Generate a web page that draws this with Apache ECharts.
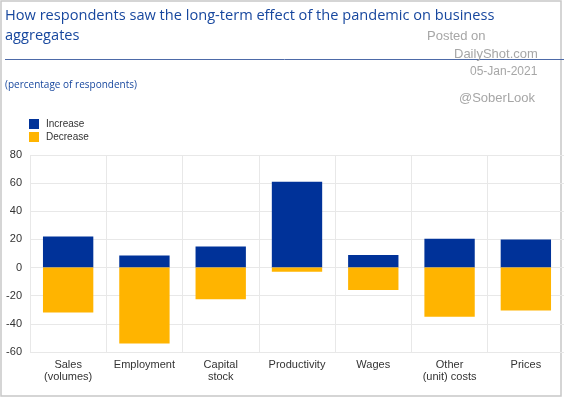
<!DOCTYPE html>
<html>
<head>
<meta charset="utf-8">
<script src="https://cdn.jsdelivr.net/npm/echarts@6/dist/echarts.min.js"></script>
<style>
html, body { margin: 0; padding: 0; background: #fff; }
#chart { width: 564px; height: 398px; }
</style>
</head>
<body>
<div id="chart"></div>
<script>
var categories = ['Sales\n(volumes)', 'Employment', 'Capital\nstock', 'Productivity', 'Wages', 'Other\n(unit) costs', 'Prices'];
var increase = [22, 8.5, 15, 61, 9, 20.5, 20];
var decrease = [-32, -54, -22.5, -3, -16, -35, -30.5];
var yTicks = [-60, -40, -20, 0, 20, 40, 60, 80];

var chart = echarts.init(document.getElementById('chart'));

var grey = '#a6a6a6';
var option = {
    animation: false,
    color: ['#003299', '#ffb400'],
    title: [
        {
            text: 'How respondents saw the long-term effect of the pandemic on business\naggregates',
            left: 5, top: 6, padding: 0,
            textStyle: { color: '#17479e', fontSize: 14.6, fontWeight: 'normal', fontFamily: 'Open Sans', lineHeight: 20 }
        },
        {
            text: '(percentage of respondents)',
            left: 5, top: 80, padding: 0,
            textStyle: { color: '#17479e', fontSize: 10, fontWeight: 'normal', fontFamily: 'Open Sans' }
        }
    ],
    graphic: [
        { type: 'rect', shape: { x: 1, y: 1, width: 560, height: 395 }, style: { fill: 'none', stroke: '#c8c8c8', lineWidth: 1.5 } },
        { type: 'line', shape: { x1: 5, y1: 59.5, x2: 564, y2: 59.5 }, style: { stroke: '#4d6aa8', lineWidth: 1 } },
        { type: 'text', left: 427, top: 30, style: { text: 'Posted on', fill: grey, font: '13px "Liberation Sans"' } },
        { type: 'text', left: 454, top: 48, style: { text: 'DailyShot.com', fill: grey, font: '13px "Liberation Sans"' } },
        { type: 'text', left: 470, top: 66, style: { text: '05-Jan-2021', fill: grey, font: '12px "Liberation Sans"' } },
        { type: 'text', left: 459, top: 92, style: { text: '@SoberLook', fill: grey, font: '13px "Liberation Sans"' } }
    ],
    legend: {
        orient: 'vertical',
        left: 24, top: 114,
        itemWidth: 10, itemHeight: 10, itemGap: 3,
        icon: 'rect',
        textStyle: { color: '#333', fontSize: 10, fontFamily: 'Liberation Sans', padding: [0, 0, 0, 2] },
        data: ['Increase', 'Decrease']
    },
    grid: { left: 30, right: -6, top: 155, bottom: 46 },
    xAxis: {
        type: 'category',
        data: categories,
        axisLine: { show: false },
        axisTick: { show: false },
        splitLine: { show: true, lineStyle: { color: '#e8e8e8' } },
        axisLabel: { color: '#333', fontSize: 11, fontFamily: 'Liberation Sans', margin: 7, lineHeight: 12, interval: 0 }
    },
    yAxis: {
        type: 'value',
        min: -60, max: 80, interval: 20,
        axisLine: { show: false },
        axisTick: { show: false },
        splitLine: { lineStyle: { color: '#e8e8e8' } },
        axisLabel: {
            color: '#333', fontSize: 11, fontFamily: 'Liberation Sans', margin: 8,
            formatter: function (v) { return yTicks.indexOf(v) >= 0 ? String(v) : ''; }
        }
    },
    series: [
        { name: 'Increase', type: 'bar', stack: 'total', barWidth: '66%', data: increase },
        { name: 'Decrease', type: 'bar', stack: 'total', barWidth: '66%', data: decrease }
    ]
};

chart.setOption(option);
</script>
</body>
</html>
